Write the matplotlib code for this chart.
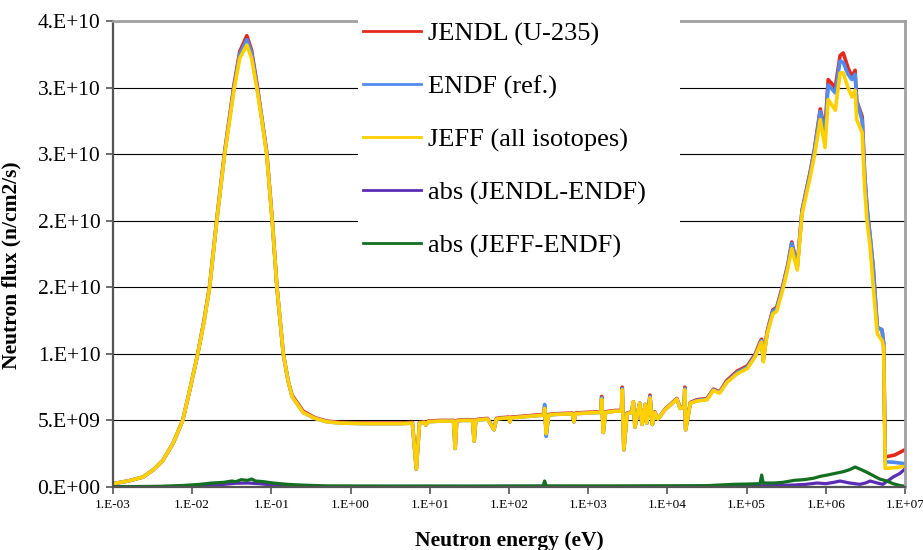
import numpy as np
import matplotlib
matplotlib.use("Agg")
import matplotlib.pyplot as plt
from matplotlib.patches import Rectangle

plt.rcParams['font.family'] = ['Liberation Serif', 'DejaVu Serif']

# energies as log10(E / eV); flux values in units of 1e9 n/cm2/s
log_energy = [-3.00, -2.81, -2.62, -2.49, -2.37, -2.24, -2.12, -2.03, -1.93, -1.85,
              -1.78, -1.69, -1.59, -1.47, -1.40, -1.31, -1.25, -1.18, -1.12, -1.06,
              -0.99, -0.93, -0.85, -0.79, -0.74, -0.60, -0.45, -0.30, -0.13, 0.25,
              0.62, 0.78, 0.83, 0.87, 0.93, 0.95, 0.98, 1.13, 1.30, 1.32,
              1.34, 1.41, 1.54, 1.56, 1.58, 1.63, 1.73, 1.81, 1.84, 1.89,
              2.00, 2.01, 2.03, 2.14, 2.33, 2.44, 2.45, 2.47, 2.50, 2.58,
              2.80, 2.82, 2.84, 2.96, 3.16, 3.17, 3.19, 3.22, 3.34, 3.42,
              3.43, 3.45, 3.49, 3.55, 3.57, 3.59, 3.65, 3.68, 3.72, 3.74,
              3.78, 3.81, 3.84, 3.88, 3.97, 4.12, 4.16, 4.21, 4.22, 4.23,
              4.29, 4.37, 4.50, 4.58, 4.66, 4.75, 4.88, 5.01, 5.11, 5.17,
              5.19, 5.21, 5.26, 5.33, 5.38, 5.46, 5.52, 5.57, 5.64, 5.70,
              5.80, 5.86, 5.93, 5.99, 6.03, 6.12, 6.18, 6.22, 6.28, 6.33,
              6.37, 6.39, 6.46, 6.49, 6.52, 6.56, 6.60, 6.65, 6.71, 6.73,
              6.75, 6.87, 7.00]

jendl = [0.25, 0.45, 0.75, 1.3, 2.0, 3.3, 5.0, 7.3, 10.0, 12.5,
         15.1, 20.1, 25.2, 30.3, 32.7, 33.9, 32.8, 30.2, 27.7, 25.2,
         20.1, 15.0, 10.0, 8.0, 6.9, 5.7, 5.2, 4.95, 4.85, 4.8,
         4.8, 4.85, 1.35, 4.85, 4.9, 4.65, 4.95, 5.0, 5.0, 2.9,
         5.0, 5.05, 5.05, 3.45, 5.05, 5.1, 5.15, 4.3, 5.15, 5.2,
         5.25, 4.9, 5.25, 5.3, 5.4, 5.45, 6.0, 4.0, 5.45, 5.5,
         5.55, 4.9, 5.55, 5.6, 5.65, 6.8, 4.1, 5.65, 5.75, 5.75,
         7.5, 2.8, 5.55, 5.65, 6.4, 4.5, 6.3, 4.7, 6.2, 4.8,
         6.9, 4.7, 5.65, 5.1, 5.85, 6.65, 5.95, 6.05, 7.5, 4.3,
         6.35, 6.55, 6.65, 7.35, 7.15, 8.0, 8.7, 9.1, 10.0, 10.9,
         11.1, 9.6, 11.7, 13.3, 13.5, 15.2, 16.7, 18.4, 16.6, 20.8,
         23.6, 25.5, 28.4, 26.8, 30.6, 30.0, 32.4, 32.6, 31.5, 30.8,
         31.3, 29.0, 27.8, 23.5, 21.0, 18.8, 16.4, 12.0, 11.8, 10.8,
         2.25, 2.4, 2.8]

endf = [0.25, 0.45, 0.75, 1.3, 2.0, 3.3, 5.0, 7.3, 10.0, 12.5,
        15.0, 20.0, 25.1, 30.1, 32.5, 33.6, 32.6, 30.0, 27.6, 25.1,
        20.0, 15.0, 10.0, 8.0, 6.8, 5.6, 5.15, 4.9, 4.8, 4.75,
        4.75, 4.8, 1.35, 4.8, 4.85, 4.65, 4.9, 4.95, 4.95, 2.9,
        4.95, 5.0, 5.0, 3.45, 5.0, 5.05, 5.1, 4.3, 5.1, 5.15,
        5.2, 4.9, 5.2, 5.25, 5.35, 5.4, 6.2, 3.8, 5.4, 5.45,
        5.5, 4.9, 5.5, 5.55, 5.6, 6.7, 4.1, 5.6, 5.7, 5.7,
        7.4, 2.8, 5.5, 5.6, 6.4, 4.5, 6.3, 4.7, 6.2, 4.8,
        6.8, 4.7, 5.6, 5.1, 5.8, 6.6, 5.9, 6.0, 7.4, 4.3,
        6.3, 6.5, 6.6, 7.3, 7.1, 7.9, 8.6, 9.0, 9.9, 10.8,
        11.0, 9.5, 11.6, 13.2, 13.4, 15.1, 16.6, 18.3, 16.5, 20.7,
        23.5, 25.4, 28.2, 26.5, 30.2, 29.6, 32.0, 31.9, 31.0, 30.6,
        31.0, 29.0, 27.5, 23.5, 21.0, 18.8, 16.4, 12.0, 11.8, 10.8,
        1.9, 1.85, 1.75]

jeff = [0.25, 0.45, 0.75, 1.3, 2.0, 3.3, 5.0, 7.3, 10.0, 12.4,
        15.0, 20.0, 25.0, 29.9, 32.2, 33.2, 32.2, 29.8, 27.5, 25.0,
        20.0, 15.0, 10.0, 8.0, 6.8, 5.6, 5.15, 4.9, 4.8, 4.75,
        4.75, 4.8, 1.35, 4.8, 4.85, 4.65, 4.9, 4.95, 4.95, 2.9,
        4.95, 5.0, 5.0, 3.45, 5.0, 5.05, 5.1, 4.3, 5.1, 5.15,
        5.2, 4.9, 5.2, 5.25, 5.35, 5.4, 5.9, 4.0, 5.4, 5.45,
        5.5, 4.9, 5.5, 5.55, 5.6, 6.6, 4.1, 5.6, 5.7, 5.7,
        7.3, 2.8, 5.5, 5.6, 6.4, 4.5, 6.3, 4.7, 6.2, 4.8,
        6.7, 4.7, 5.6, 5.1, 5.8, 6.6, 5.9, 6.0, 7.3, 4.3,
        6.3, 6.45, 6.55, 7.25, 7.05, 7.85, 8.5, 8.9, 9.8, 10.7,
        10.9, 9.4, 11.5, 13.0, 13.2, 14.9, 16.4, 17.9, 16.3, 20.5,
        23.2, 25.0, 27.6, 25.5, 29.1, 28.3, 31.1, 31.1, 30.0, 29.3,
        29.8, 27.6, 26.6, 22.5, 20.0, 18.0, 15.0, 11.5, 11.0, 10.5,
        1.4, 1.45, 1.55]

log_energy_jendl_diff = [-3.0, -2.5, -2.0, -1.8, -1.6, -1.45, -1.3, -1.15, -1.0, -0.8,
                         -0.6, -0.2, 0.5, 1.0, 1.5, 2.0, 2.5, 3.0, 3.5, 4.0,
                         4.5, 5.0, 5.3, 5.6, 5.75, 5.89, 6.0, 6.1, 6.18, 6.3,
                         6.43, 6.5, 6.56, 6.65, 6.72, 6.78, 6.85, 6.93, 7.0]
abs_jendl = [0.02, 0.03, 0.05, 0.12, 0.2, 0.28, 0.3, 0.25, 0.15, 0.1,
             0.05, 0.04, 0.04, 0.05, 0.04, 0.05, 0.05, 0.04, 0.05, 0.05,
             0.06, 0.08, 0.1, 0.15, 0.2, 0.3, 0.25, 0.35, 0.45, 0.3,
             0.2, 0.3, 0.45, 0.3, 0.2, 0.45, 0.75, 1.0, 1.35]

log_energy_jeff_diff = [-3.0, -2.4, -2.1, -1.9, -1.75, -1.6, -1.5, -1.45, -1.38, -1.3,
                        -1.25, -1.2, -1.1, -0.98, -0.8, -0.64, -0.3, 0.5, 1.5, 2.43,
                        2.45, 2.47, 3.5, 4.5, 4.83, 5.0, 5.17, 5.19, 5.21, 5.35,
                        5.46, 5.6, 5.72, 5.84, 5.93, 6.02, 6.1, 6.22, 6.3, 6.37,
                        6.45, 6.52, 6.6, 6.68, 6.77, 6.85, 6.93, 7.0]
abs_jeff = [0.02, 0.05, 0.12, 0.2, 0.3, 0.35, 0.45, 0.4, 0.55, 0.5,
            0.6, 0.45, 0.4, 0.3, 0.2, 0.15, 0.08, 0.07, 0.07, 0.08,
            0.45, 0.08, 0.08, 0.1, 0.2, 0.22, 0.25, 0.9, 0.3, 0.3,
            0.35, 0.5, 0.55, 0.65, 0.8, 0.9, 1.0, 1.15, 1.3, 1.5,
            1.3, 1.1, 0.85, 0.6, 0.45, 0.25, 0.12, 0.05]

y_ticks = [0, 5e9, 1e10, 1.5e10, 2e10, 2.5e10, 3e10, 3.5e10]
y_tick_labels = ['0.E+00', '5.E+09', '1.E+10', '2.E+10', '2.E+10', '3.E+10', '3.E+10', '4.E+10']
x_ticks = [1e-3, 1e-2, 1e-1, 1e0, 1e1, 1e2, 1e3, 1e4, 1e5, 1e6, 1e7]
x_tick_labels = ['1.E-03', '1.E-02', '1.E-01', '1.E+00', '1.E+01', '1.E+02',
                 '1.E+03', '1.E+04', '1.E+05', '1.E+06', '1.E+07']

fig = plt.figure(figsize=(9.23, 5.5), dpi=100)
ax = fig.add_axes([113 / 923, 63 / 550, 792 / 923, 466 / 550])

energy = 10 ** np.array(log_energy)
ax.plot(energy, np.array(jendl) * 1e9, color='#E4281C', lw=2.6, label='JENDL (U-235)')
ax.plot(energy, np.array(endf) * 1e9, color='#4F8CF0', lw=2.6, label='ENDF (ref.)')
ax.plot(energy, np.array(jeff) * 1e9, color='#FFD000', lw=2.6, label='JEFF (all isotopes)')
ax.plot(10 ** np.array(log_energy_jendl_diff), np.array(abs_jendl) * 1e9,
        color='#5B2DB4', lw=2.3, label='abs (JENDL-ENDF)')
ax.plot(10 ** np.array(log_energy_jeff_diff), np.array(abs_jeff) * 1e9,
        color='#137020', lw=2.3, label='abs (JEFF-ENDF)')

ax.set_xscale('log')
ax.set_xticks(x_ticks, x_tick_labels)
ax.xaxis.set_minor_locator(matplotlib.ticker.NullLocator())
ax.set_yticks(y_ticks, y_tick_labels)
ax.yaxis.grid(True, color='black', lw=0.8)
ax.set_axisbelow(True)

for side in ['left', 'bottom']:
    ax.spines[side].set_color('#555555')
    ax.spines[side].set_linewidth(1.6)
for side in ['top', 'right']:
    ax.spines[side].set_color('#A0A0A0')
    ax.spines[side].set_linewidth(2)

ax.tick_params(axis='y', labelsize=15.5, length=5, width=1.2, color='#555555', pad=4)
ax.tick_params(axis='x', labelsize=9.5, length=5, width=1.2, color='#555555', pad=4)

ax.set_xlabel('Neutron energy (eV)', fontsize=15.5, fontweight='bold', labelpad=14)
ax.set_ylabel('Neutron flux (n/cm2/s)', fontsize=15.5, fontweight='bold')
ax.yaxis.set_label_coords(-0.115, 0.475)

# white panel behind the legend, it hides the top frame and grid lines
ax.add_patch(Rectangle((0.309, 0.476), 0.407, 0.6, transform=ax.transAxes,
                       facecolor='white', edgecolor='none', clip_on=False, zorder=3))

leg = ax.legend(loc='upper left', bbox_to_anchor=(363 / 923, 1 - 22 / 550),
                bbox_transform=fig.transFigure, frameon=False, fontsize=19,
                handlelength=2.2, handletextpad=0.25, labelspacing=1.1,
                borderpad=0, borderaxespad=0)
leg.set_zorder(5)
for line in leg.get_lines():
    line.set_linewidth(2)

ax.set_xlim(1e-3, 1e7)
ax.set_ylim(0, 3.5e10)

fig.savefig('out.png', dpi=100)
